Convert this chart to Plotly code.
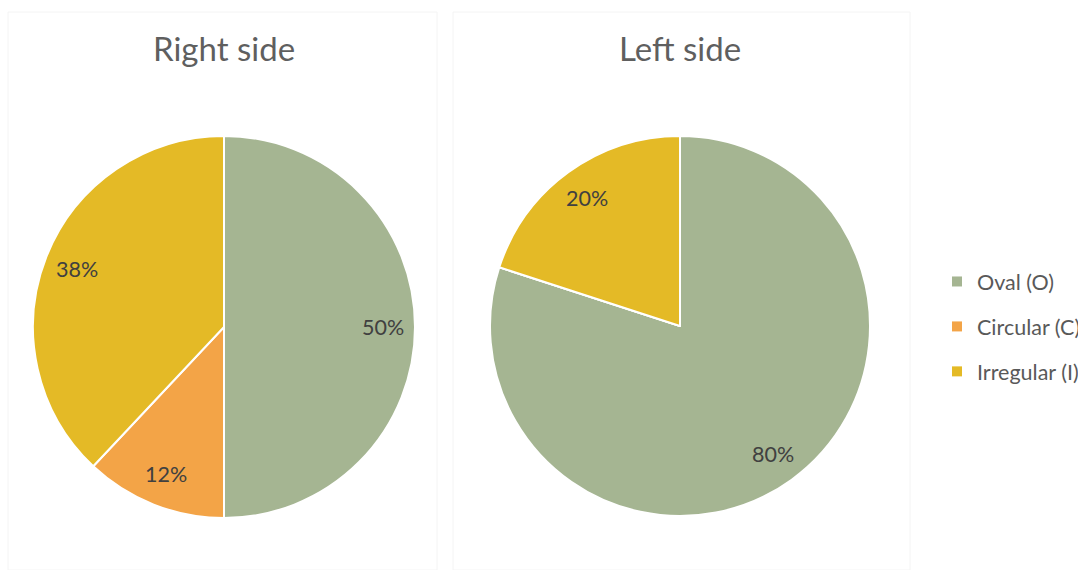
import math
import plotly.graph_objects as go

W, H = 1078, 570

categories = ["Oval (O)", "Circular (C)", "Irregular (I)"]
colors = ["#A5B592", "#F3A447", "#E4BA26"]
right_values = [50, 12, 38]
left_values = [80, 0, 20]
titles = ["Right side", "Left side"]

# pie layout in pixels (center x, center y, radius)
pies = [(224, 327, 191), (680, 326, 190)]
value_sets = [right_values, left_values]

fig = go.Figure()
FONT = "Lato, 'Open Sans', sans-serif"

for (cx, cy, r), vals, title in zip(pies, value_sets, titles):
    dom_x = [(cx - r) / W, (cx + r) / W]
    dom_y = [(H - cy - r) / H, (H - cy + r) / H]
    fig.add_trace(go.Pie(
        labels=categories, values=vals, sort=False, direction="clockwise",
        rotation=0, marker=dict(colors=colors, line=dict(color="white", width=2)),
        textinfo="none", hoverinfo="label+percent", showlegend=False,
        domain=dict(x=dom_x, y=dom_y),
    ))
    total = sum(vals)
    start = 0.0
    for v in vals:
        if v <= 0:
            continue
        mid = (start + v / 2) / total * 2 * math.pi
        start += v
        lx = cx + 0.83 * r * math.sin(mid)
        ly = cy - 0.83 * r * math.cos(mid)
        fig.add_annotation(x=lx / W, y=1 - ly / H, xref="paper", yref="paper",
                           xanchor="center", yanchor="middle",
                           text=f"{round(v / total * 100)}%", showarrow=False,
                           font=dict(family=FONT, size=21.5, color="#404040"))
    fig.add_annotation(x=cx / W, y=1 - 48 / H, xref="paper", yref="paper",
                       xanchor="center", yanchor="middle",
                       text=title, showarrow=False,
                       font=dict(family=FONT, size=33, color="#5f5f5f"))

# legend entries
for cat, col in zip(categories, colors):
    fig.add_trace(go.Scatter(x=[None], y=[None], mode="markers", name=cat,
                             legendgroup=cat,
                             marker=dict(symbol="square", size=10, color=col)))

fig.update_layout(
    width=W, height=H,
    margin=dict(l=0, r=0, t=0, b=0, autoexpand=False),
    paper_bgcolor="white", plot_bgcolor="white",
    xaxis=dict(visible=False), yaxis=dict(visible=False),
    legend=dict(x=937 / W, y=1 - 261 / H, xanchor="left", yanchor="top",
                font=dict(family=FONT, size=21.5, color="#595959"),
                tracegroupgap=14, bgcolor="rgba(0,0,0,0)", itemwidth=30),
    shapes=[
        dict(type="rect", xref="paper", yref="paper", x0=8 / W, x1=437 / W,
             y0=0, y1=1 - 12 / H, line=dict(color="#f4f4f4", width=1)),
        dict(type="rect", xref="paper", yref="paper", x0=453 / W, x1=910 / W,
             y0=0, y1=1 - 12 / H, line=dict(color="#f4f4f4", width=1)),
    ],
)

fig.write_html("out.html")
